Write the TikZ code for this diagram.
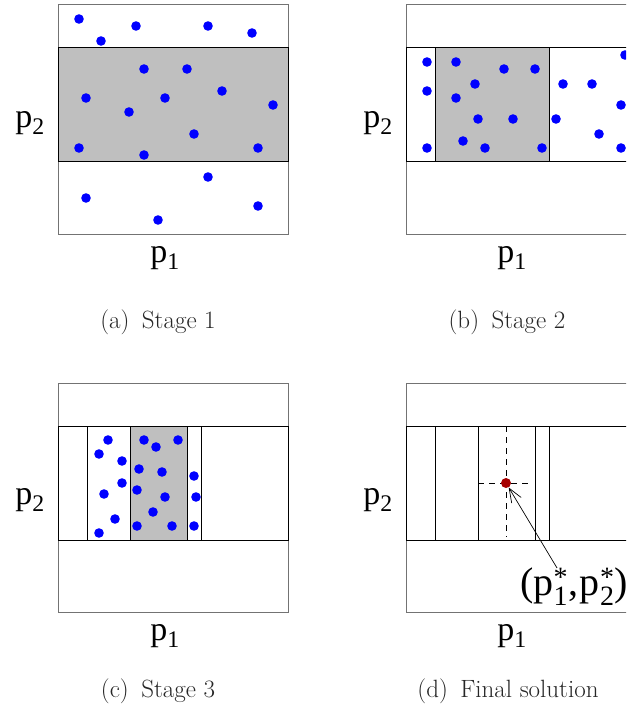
\documentclass[tikz,border=0pt]{standalone}
\usepackage{fontspec}
\newfontfamily\axisfont{Liberation Serif}
\usetikzlibrary{arrows.meta,positioning}
\tikzset{
  frame/.style={draw=black!55,line width=1pt},
  band/.style={draw=black,line width=1pt},
  kept/.style={draw=black,fill=black!25,line width=1pt},
  pt/.style={fill=blue},
  axis/.style={font=\axisfont\fontsize{34}{34}\selectfont,inner sep=0pt},
  sol/.style={font=\axisfont\fontsize{40}{40}\selectfont,inner sep=0pt},
  subcap/.style={font=\fontsize{25}{30}\selectfont,text=black!85,inner sep=0pt},
  guide/.style={draw=black,line width=0.8pt,dash pattern=on 6pt off 5pt},
  optpt/.style={circle,fill=red!65!black,minimum size=10pt,inner sep=0pt},
  pointer/.style={-{Straight Barb[length=14pt,width=11pt]},line width=0.7pt},
}
\begin{document}
\begin{tikzpicture}[x=1pt,y=-1pt]
  \clip (0,0) rectangle (626,719);

  % (a) stage 1
  \draw[frame] (58,5) rectangle (288,234);
  \draw[kept] (58,48) rectangle (288,162);
  \foreach \x/\y in {79/19,101/41,136/26,208/26,252/33,
                     144/69,187/69,222/91,86/98,165/98,273/105,129/112,194/134,79/148,144/155,258/148,
                     208/177,86/198,258/206,158/220}
    \fill[pt] (\x,\y) circle (4.8);
  \node[axis] (pa2) at (30,123) {p\textsubscript{2}};
  \node[axis] (pa1) at (165,258) {p\textsubscript{1}};
  \node[subcap] (capa) at (158,322) {(a)\enspace Stage 1};

  % (b) stage 2
  \draw[frame] (406,5) rectangle (636,234);
  \draw[band] (406,48) rectangle (636,162);
  \draw[kept] (435,48) rectangle (549,162);
  \foreach \x/\y in {427/62,456/62,504/69,535/69,475/84,427/91,456/98,478/119,513/119,463/141,427/148,485/148,542/148,
                     563/84,592/84,625/55,621/105,556/119,599/134,621/148}
    \fill[pt] (\x,\y) circle (4.8);
  \node[axis] (pb2) at (378,123) {p\textsubscript{2}};
  \node[axis] (pb1) at (512,258) {p\textsubscript{1}};
  \node[subcap] (capb) at (507,322) {(b)\enspace Stage 2};

  % (c) stage 3
  \draw[frame] (58,383) rectangle (288,612);
  \draw[band] (58,426) rectangle (288,540);
  \draw[band] (87,426) rectangle (201,540);
  \draw[kept] (130,426) rectangle (187,540);
  \foreach \x/\y in {108/440,99/454,122/461,122/483,104/494,115/519,99/533,
                     144/440,156/447,178/440,139/469,162/472,137/490,165/497,153/512,137/526,172/526,
                     194/476,196/497,194/526}
    \fill[pt] (\x,\y) circle (4.8);
  \node[axis] (pc2) at (30,500) {p\textsubscript{2}};
  \node[axis] (pc1) at (165,636) {p\textsubscript{1}};
  \node[subcap] (capc) at (158,691) {(c)\enspace Stage 3};

  % (d) final solution
  \draw[frame] (406,383) rectangle (636,612);
  \draw[band] (406,426) rectangle (636,540);
  \draw[band] (435,426) rectangle (549,540);
  \draw[band] (478,426) rectangle (535,540);
  \draw[guide] (506,426) -- (506,537);
  \draw[guide] (478,483) -- (532,483);
  \node[optpt] (opt) at (506,483) {};
  \node[sol,anchor=west] (optlbl) at (520,587) {(p\rlap{\textsuperscript{*}}\textsubscript{1},\kern2pt p\rlap{\textsuperscript{*}}\textsubscript{2})};
  \draw[pointer] ([xshift=37pt]optlbl.north west) -- (opt);
  \node[axis] (pd2) at (378,500) {p\textsubscript{2}};
  \node[axis] (pd1) at (512,636) {p\textsubscript{1}};
  \node[subcap] (capd) at (508,691) {(d)\enspace Final solution};
\end{tikzpicture}
\end{document}
